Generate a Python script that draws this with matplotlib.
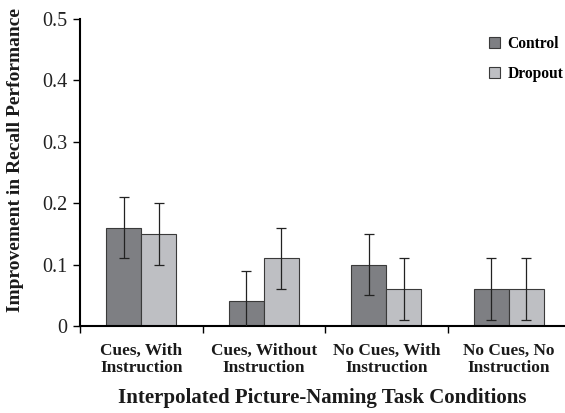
import numpy as np
import matplotlib
matplotlib.use("Agg")
import matplotlib.pyplot as plt

conditions = ["Cues, With\nInstruction", "Cues, Without\nInstruction",
              "No Cues, With\nInstruction", "No Cues, No\nInstruction"]
control = [0.16, 0.04, 0.10, 0.06]
control_err = [0.05, 0.05, 0.05, 0.05]
dropout = [0.15, 0.11, 0.06, 0.06]
dropout_err = [0.05, 0.05, 0.05, 0.05]

plt.rcParams['font.family'] = ['Liberation Serif', 'DejaVu Serif']

fig = plt.figure(figsize=(5.65, 4.13), dpi=100)
ax = fig.add_axes([0.1416, 0.2107, 0.8584, 0.7433])

x = np.arange(len(conditions)) + 0.5
w = 0.286
ax.bar(x - w / 2, control, w, color="#7e7f83", edgecolor="#3a3a3a", linewidth=0.8,
       label="Control", zorder=2)
ax.bar(x + w / 2, dropout, w, color="#bebfc3", edgecolor="#3a3a3a", linewidth=0.8,
       label="Dropout", zorder=2)
ax.errorbar(x - w / 2, control, yerr=control_err, fmt="none", ecolor="#222222",
            elinewidth=0.9, capsize=3.5, capthick=0.9, zorder=3)
ax.errorbar(x + w / 2, dropout, yerr=dropout_err, fmt="none", ecolor="#222222",
            elinewidth=0.9, capsize=3.5, capthick=0.9, zorder=3)

ax.set_xlim(0, 485 / 122.5)
ax.set_ylim(0, 0.5)
ax.set_yticks([0, 0.1, 0.2, 0.3, 0.4, 0.5])
ax.set_yticklabels(["0", "0.1", "0.2", "0.3", "0.4", "0.5"], fontsize=14.5, color="#222222")
ax.set_xticks([0, 1, 2, 3])
ax.set_xticklabels([])
ax.set_xticks(x, minor=True)
ax.set_xticklabels(conditions, minor=True, fontsize=12.4, fontweight="bold",
                   linespacing=1.15, color="#1a1a1a")
ax.tick_params(axis="x", which="minor", length=0, pad=12)
ax.tick_params(axis="x", which="major", length=5, width=1, direction="out")
ax.tick_params(axis="y", length=5, width=1, direction="out", pad=4)

for side in ["top", "right"]:
    ax.spines[side].set_visible(False)
ax.spines["left"].set_linewidth(1.5)
ax.spines["bottom"].set_linewidth(1.5)

ax.set_xlabel("Interpolated Picture-Naming Task Conditions", fontsize=15,
              fontweight="bold", labelpad=8, color="#1a1a1a")
ax.set_ylabel("Improvement in Recall Performance", fontsize=14,
              fontweight="bold", color="#1a1a1a")
ax.yaxis.set_label_coords(-0.115, 0.54)

ax.legend(loc="upper right", bbox_to_anchor=(1.025, 0.99), frameon=False,
          prop={"weight": "bold", "size": 11.2}, handlelength=0.7,
          handleheight=0.7, handletextpad=0.45, labelspacing=0.9)

fig.savefig("out.png", dpi=100)
